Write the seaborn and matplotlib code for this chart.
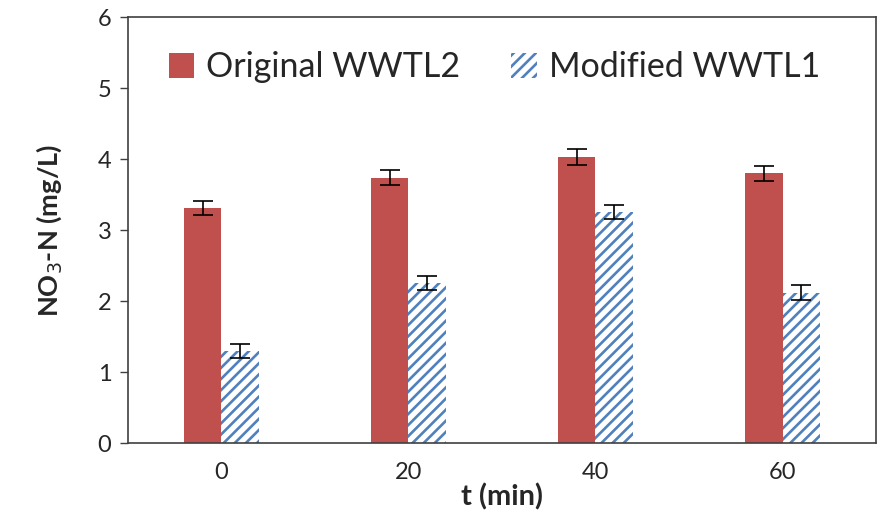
import pandas as pd
import matplotlib
matplotlib.use("Agg")
import matplotlib.pyplot as plt
import seaborn as sns

# data
times = ["0", "20", "40", "60"]
original = [3.31, 3.74, 4.03, 3.80]
original_err = [0.10, 0.10, 0.11, 0.11]
modified = [1.30, 2.25, 3.25, 2.12]
modified_err = [0.10, 0.10, 0.10, 0.10]
series = ["Original WWTL2", "Modified WWTL1"]

df = pd.DataFrame({
    "t": times * 2,
    "value": original + modified,
    "err": original_err + modified_err,
    "series": [series[0]] * 4 + [series[1]] * 4,
})

sns.set_style("white")
plt.rcParams['font.family'] = ['Lato', 'DejaVu Sans']
plt.rcParams['hatch.linewidth'] = 1.9

red = "#C0504D"
blue = "#4F81BD"

fig = plt.figure(figsize=(8.87, 5.2), dpi=100)
ax = fig.add_axes([0.1443, 0.148, 0.8433, 0.819])

sns.barplot(data=df, x="t", y="value", hue="series", hue_order=series,
            order=times, palette=[red, blue], width=0.4, gap=0,
            errorbar=None, ax=ax, saturation=1)

# style bars + error bars
n = len(times)
bars = ax.patches[:2 * n]
for i, p in enumerate(bars):
    row = df.iloc[i]
    if row["series"] == series[1]:
        p.set_facecolor("white")
        p.set_edgecolor(blue)
        p.set_hatch("///")
    p.set_linewidth(0)
    xc = p.get_x() + p.get_width() / 2
    ax.errorbar(xc, row["value"], yerr=row["err"], fmt="none",
                ecolor="black", elinewidth=1.2, capsize=7, capthick=1.2)

# legend
leg = ax.legend(loc="upper center", bbox_to_anchor=(0.49, 0.992), ncol=2,
                frameon=False, fontsize=24.5, handlelength=0.75, handleheight=0.75,
                handletextpad=0.35, columnspacing=1.5)
for h, c in zip(leg.legend_handles, series):
    if c == series[1]:
        h.set_facecolor("white")
        h.set_edgecolor(blue)
        h.set_hatch("///")
    h.set_linewidth(0)

ax.set_ylim(0, 6)
ax.set_xlim(-0.5, 3.5)
ax.set_yticks(range(0, 7))
ax.tick_params(axis="y", direction="out", length=6, width=1, labelsize=17,
               left=True, pad=6, color="#404040")
ax.tick_params(axis="x", length=0, labelsize=17, pad=14)
for s in ax.spines.values():
    s.set_visible(True)
    s.set_color("#404040")
    s.set_linewidth(1.2)

ax.set_xlabel("t (min)", fontsize=21, fontweight="bold", labelpad=0)
ax.set_ylabel("NO$_3$-N (mg/L)", fontsize=19.5, fontweight="bold", labelpad=24)

fig.savefig("out.png", dpi=100)
